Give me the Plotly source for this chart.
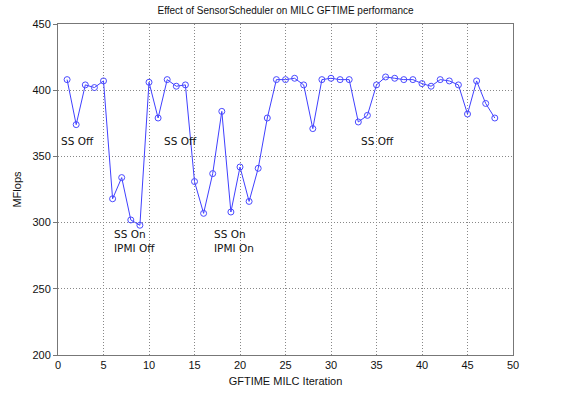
import plotly.graph_objects as go

iterations = list(range(1, 49))
mflops = [408, 374, 404, 402, 407, 318, 334, 302, 298, 406,
          379, 408, 403, 404, 331, 307, 337, 384, 308, 342,
          316, 341, 379, 408, 408, 409, 404, 371, 408, 409,
          408, 408, 376, 381, 404, 410, 409, 408, 408, 405,
          403, 408, 407, 404, 382, 407, 390, 379]

label_text = ["SS Off", "SS On<br>IPMI Off", "SS Off", "SS On<br>IPMI On", "SS Off"]
label_x = [0.1, 5.9, 11.4, 16.9, 33.1]
label_y = [362, 286, 362, 286, 362]

fig = go.Figure()
fig.add_trace(go.Scatter(
    x=iterations, y=mflops, mode="lines+markers",
    line=dict(color="#4040ff", width=1),
    marker=dict(symbol="circle-open", size=6, color="#4a4aff", line=dict(width=1)),
    showlegend=False, hoverinfo="skip"))

for t, x, y in zip(label_text, label_x, label_y):
    fig.add_annotation(x=x, y=y, text=t, showarrow=False, xanchor="left",
                       yanchor="middle", align="left",
                       font=dict(family="DejaVu Sans", size=10.5, color="#111"))

axis_common = dict(showline=True, linecolor="#777", linewidth=1, mirror=True,
                   showgrid=True, gridcolor="#888", griddash="1px,2px", gridwidth=1,
                   zeroline=False, automargin=False,
                   tickfont=dict(family="Liberation Sans", size=11, color="#111"))

fig.update_xaxes(range=[0, 50], dtick=5, tick0=0, ticks="",
                 title=dict(text="GFTIME MILC Iteration", standoff=7,
                            font=dict(family="Liberation Sans", size=11, color="#111")),
                 **axis_common)
fig.update_yaxes(range=[200, 450], dtick=50, tick0=200,
                 ticks="outside", ticklen=4, tickcolor="#777",
                 title=dict(text="MFlops", standoff=8,
                            font=dict(family="Liberation Sans", size=11, color="#111")),
                 **axis_common)

fig.update_layout(
    width=566, height=393,
    margin=dict(l=58, r=53, t=24, b=38, autoexpand=False),
    paper_bgcolor="white", plot_bgcolor="white",
    title=dict(text="Effect of SensorScheduler on MILC GFTIME performance",
               x=0.5, xref="paper", y=1 - 10/393, yanchor="middle",
               font=dict(family="Liberation Sans", size=10, color="#111")),
)

fig.write_html("out.html")
